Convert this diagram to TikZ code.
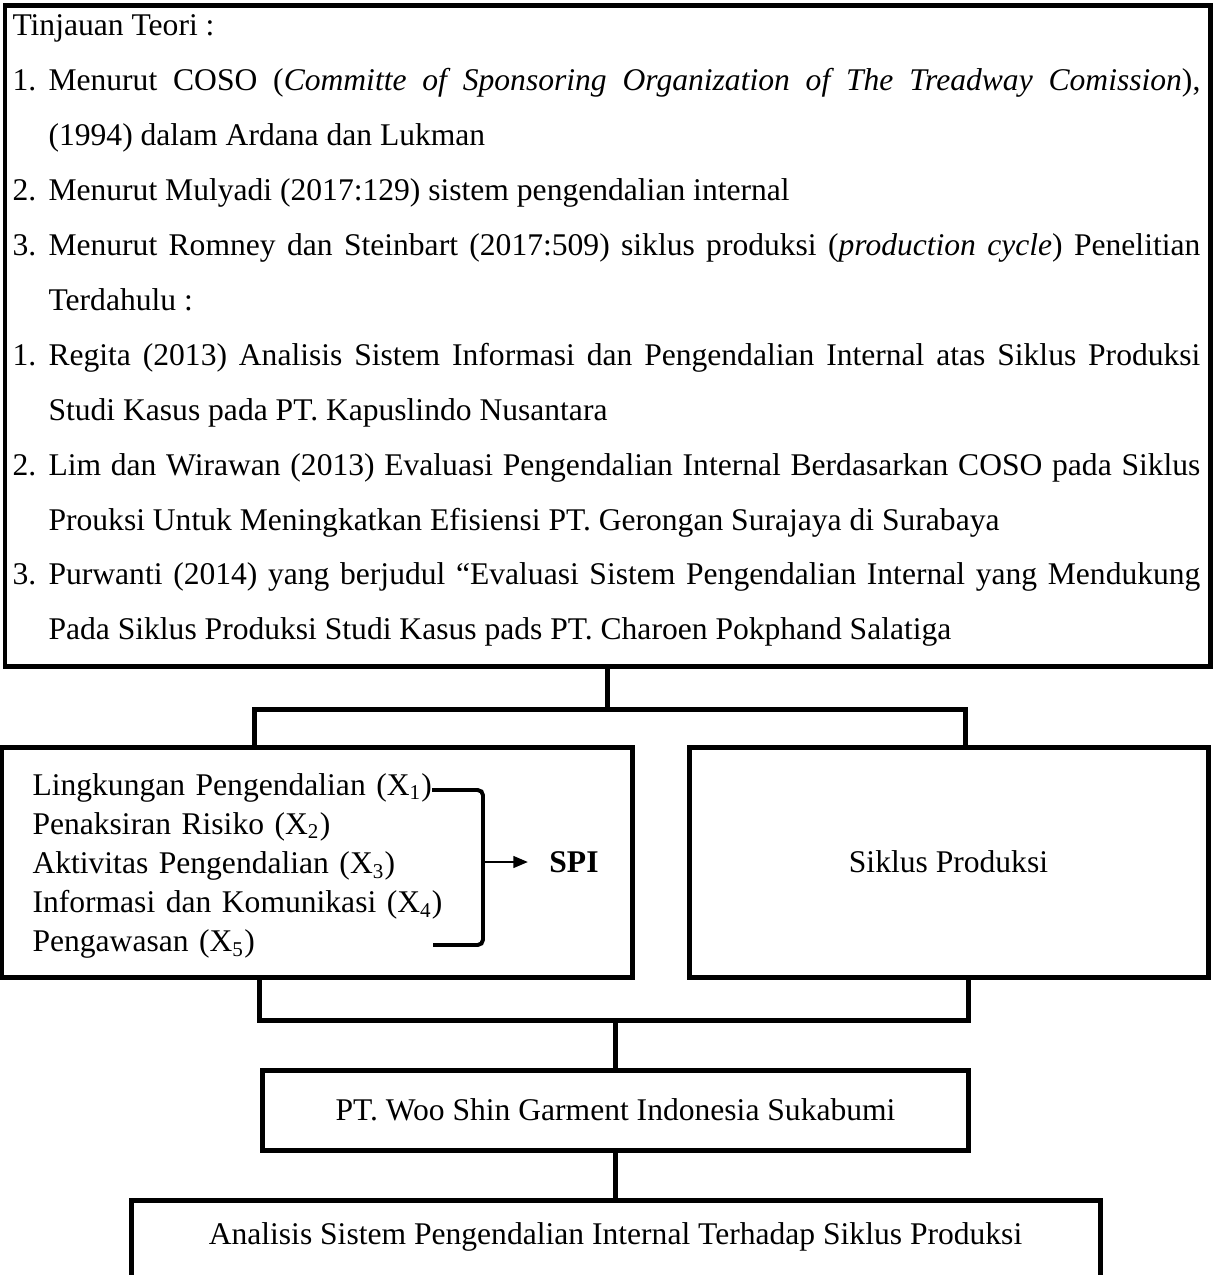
\documentclass[tikz,border=0pt]{standalone}
\usepackage{fontspec}
\setmainfont{Liberation Serif}
\usetikzlibrary{arrows.meta,calc}

\newcommand{\butir}[1]{\par\noindent\hangindent=13.7pt\hangafter=1\makebox[13.7pt][l]{#1}}

\begin{document}
\begin{tikzpicture}[x=0.38pt,y=-0.38pt,
   every node/.style={font=\fontsize{12}{14.4}\selectfont},
   box/.style={draw,line width=1.9pt,inner sep=0pt},
   garis/.style={line width=1.9pt},
   kurung/.style={line width=1.5pt,rounded corners=2pt},
   panah/.style={-{Triangle[length=5.5pt,width=4.5pt]},line width=0.6pt}]
  \useasboundingbox (0,0) rectangle (1215,1275);

  \node[box,minimum width=1205*0.38pt,minimum height=661*0.38pt] (teori) at (607.5,335.5) {};
  \node[anchor=base west,inner sep=0pt,text width=451.4pt,align=justify,
        font=\fontsize{12}{20.9}\selectfont] (teoriisi) at (12,35)
   {\tolerance=9999\hyphenpenalty=10000\spaceskip=0.25em plus 0.6em minus 0.1em
    Tinjauan Teori :
    \butir{1.}Menurut COSO (\textit{Committe of Sponsoring Organization of The Treadway Comission}),\linebreak (1994) dalam Ardana dan Lukman
    \butir{2.}Menurut Mulyadi (2017:129) sistem pengendalian internal
    \butir{3.}Menurut Romney dan Steinbart (2017:509) siklus produksi (\textit{production cycle}) Penelitian\linebreak Terdahulu :
    \butir{1.}Regita (2013) Analisis Sistem Informasi dan Pengendalian Internal atas Siklus Produksi\linebreak Studi Kasus pada PT. Kapuslindo Nusantara
    \butir{2.}Lim dan Wirawan (2013) Evaluasi Pengendalian Internal Berdasarkan COSO pada Siklus\linebreak Prouksi Untuk Meningkatkan Efisiensi PT. Gerongan Surajaya di Surabaya
    \butir{3.}Purwanti (2014) yang berjudul “Evaluasi Sistem Pengendalian Internal yang Mendukung\linebreak Pada Siklus Produksi Studi Kasus pads PT. Charoen Pokphand Salatiga\par};

  % SPI dan siklus produksi
  \node[box,minimum width=630*0.38pt,minimum height=230*0.38pt] (spi) at (317,862) {};
  \node[anchor=base west,inner sep=0pt,text width=160pt,align=left,
        font=\fontsize{12}{14.9}\selectfont] (spiisi) at (32,795)
   {Lingkungan Pengendalian (X\textsubscript{1})\\
    Penaksiran Risiko (X\textsubscript{2})\\
    Aktivitas Pengendalian (X\textsubscript{3})\\
    Informasi dan Komunikasi (X\textsubscript{4})\\
    Pengawasan (X\textsubscript{5})};
  \node[font=\fontsize{12}{14.4}\selectfont\bfseries,inner xsep=8pt] (spilabel) at (574,862) {SPI};
  \node[box,minimum width=519*0.38pt,minimum height=230*0.38pt] (siklus) at (948.5,862) {Siklus Produksi};

  \node[box,minimum width=706*0.38pt,minimum height=80*0.38pt] (pt) at (615.5,1110) {PT. Woo Shin Garment Indonesia Sukabumi};
  \node[box,anchor=north,minimum width=969*0.38pt,text height=10.7pt,text depth=40pt,inner ysep=6pt] (analisis) at (615.5,1198)
   {Analisis Sistem Pengendalian Internal Terhadap Siklus Produksi};

  \draw[kurung] (432,790) -- (483,790) -- (483,945) -- (433,945);
  \coordinate (kurung) at (483,862);
  \draw[panah] (kurung) -- (spilabel.west);

  \coordinate (cabangkiri) at (254,709);
  \coordinate (cabangkanan) at (965,709);
  \coordinate (gabungkiri) at (259,1020);
  \coordinate (gabungkanan) at (968,1020);
  \draw[garis] (teori.south) -- (teori.south |- cabangkiri);
  \draw[garis] (spi.north -| cabangkiri) -- (cabangkiri) -- (cabangkanan) -- (siklus.north -| cabangkanan);
  \draw[garis] (spi.south -| gabungkiri) -- (gabungkiri) -- (gabungkanan) -- (siklus.south -| gabungkanan);
  \draw[garis] (pt.north |- gabungkiri) -- (pt.north);
  \draw[garis] (pt.south) -- (analisis.north);
\end{tikzpicture}
\end{document}
